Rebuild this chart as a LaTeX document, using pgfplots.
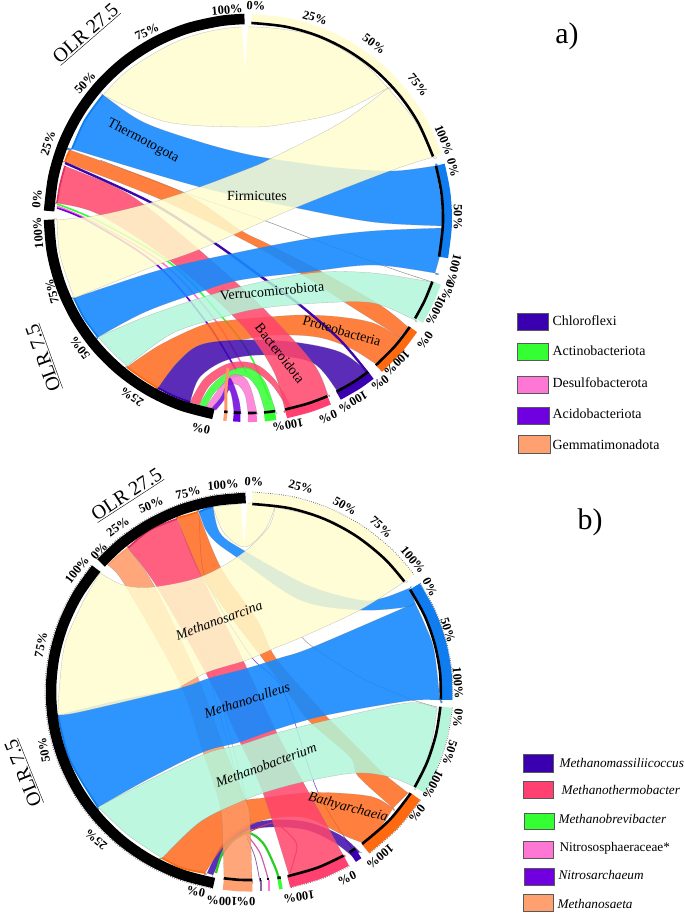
\documentclass[border=0pt]{standalone}
\usepackage{fontspec}
\setmainfont{Liberation Serif}
\usepackage{pgfplots}
\pgfplotsset{compat=1.18}

% chord colours (blended over white) and band colours
\definecolor{yel}{RGB}{255,253,207}
\definecolor{blu}{RGB}{23,137,255}
\definecolor{min}{RGB}{178,246,217}
\definecolor{ora}{RGB}{255,105,29}
\definecolor{pnk}{RGB}{255,68,106}
\definecolor{pur}{RGB}{61,7,171}
\definecolor{lor}{RGB}{255,150,100}
\definecolor{grn}{RGB}{51,255,51}
\definecolor{vpk}{RGB}{255,119,213}
\definecolor{vio}{RGB}{112,0,224}
\definecolor{byel}{RGB}{255,252,212}
\definecolor{bblu}{RGB}{15,125,240}
\definecolor{bmin}{RGB}{181,245,218}
\definecolor{bora}{RGB}{255,106,16}
\definecolor{bpnk}{RGB}{255,64,112}
\definecolor{bpur}{RGB}{58,0,176}
\definecolor{blor}{RGB}{255,160,112}
\definecolor{dpnk}{RGB}{225,50,95}

\pgfplotsset{
  ch/.style={draw=black!50, draw opacity=.5, line width=.3pt, fill=#1, fill opacity=.85, smooth, tension=.55},
  chb/.style={draw=black!50, draw opacity=.5, line width=.3pt, fill=#1, fill opacity=.9, smooth, tension=.55},
  band/.style={draw=#1, line width=9bp, smooth, tension=.55},
  bandb/.style={draw=#1, line width=11bp, smooth, tension=.55},
  blk/.style={draw=black, line width=2.6bp, smooth, tension=.55},
  ring/.style={draw=black, line width=10.5bp, smooth, tension=.55},
  thin/.style={draw=#1, line width=1.6bp, smooth, tension=.55},
  strip/.style={draw=#1, line width=1.8bp, smooth, tension=.55},
  rim/.style={draw=black!60, line width=.8bp, dash pattern=on .7bp off 1.5bp, smooth, tension=.55},
  box/.style={draw=black!65, line width=.8pt, fill=#1},
}
\newcommand{\pct}[4]{\node[rotate=#3, inner sep=0pt, font=\fontsize{12.5}{12.5}\selectfont\bfseries] at (axis cs:#1,#2) {#4\%};}
\newcommand{\lab}[4]{\node[rotate=#3, inner sep=0pt, font=\fontsize{14}{14}\selectfont] at (axis cs:#1,#2) {#4};}
\newcommand{\leg}[3]{\node[anchor=west, font=\fontsize{14}{14}\selectfont] at (axis cs:#1,#2) {#3};}
\newcommand{\legb}[3]{\node[anchor=west, font=\fontsize{13.3}{14}\selectfont] at (axis cs:#1,#2) {#3};}
\newcommand{\olr}[4]{\node[rotate=#3, inner sep=0pt, font=\fontsize{20}{20}\selectfont] at (axis cs:#1,#2) {\underline{#4}};}

\begin{document}
\begin{tikzpicture}
\path[use as bounding box] (0,0) rectangle (685bp,914bp);
\begin{axis}[
  at={(0,0)}, anchor=south west,
  scale only axis, width=685bp, height=914bp,
  xmin=0, xmax=685, ymin=0, ymax=914,
  y dir=reverse,
  axis lines=none,
  clip=false,
]

%%%%%% panel a %%%%%%
% long thin ribbons
\addplot[thin=grn] coordinates {(57,204)(100,222)(170,263)(223,318)(250,355)(270,400)};
\addplot[thin=vpk] coordinates {(57,206)(97,224)(165,265)(215,320)(246,372)};
\addplot[thin=vio] coordinates {(57,208)(90,222)(157,265)(207,323)(236,370)};
\addplot[draw=black!45, line width=.5pt, smooth] coordinates {(100,160)(183,192)(263,220)(310,238)(387,267)(432,282)};
% arch ribbons
\addplot[ch=pnk] coordinates {(190,402)(190,402)(205,378)(230,363)(255,364)(275,380)(292,408)(292,408)(288,409)(288,409)(272,385)(252,370)(232,370)(210,385)(199,405)(199,405)(190,402)};
\addplot[ch=grn] coordinates {(199,405)(199,405)(212,385)(232,370)(250,368)(265,382)(276,412)(276,412)(265,412)(265,412)(258,390)(247,377)(233,378)(215,392)(206,407)(206,407)(199,405)};
\addplot[ch=vpk] coordinates {(206,407)(206,407)(218,390)(232,375)(245,378)(252,392)(257,413)(257,413)(248,413)(248,413)(245,395)(238,385)(229,385)(220,397)(212,408)(212,408)(206,407)};
\addplot[ch=vio] coordinates {(212,408)(212,408)(222,395)(229,378)(234,385)(239,400)(241,413)(241,413)(234,413)(234,413)(232,398)(229,390)(224,400)(216,410)(216,410)(212,408)};
\addplot[draw=lor, line width=3bp, smooth] coordinates {(226,412)(226,390)(228,368)};
% big chords
\addplot[ch=ora] coordinates {(400,337)(400,337)(373,323)(340,317)(303,315)(268,317)(233,320)(203,325)(160,345)(127,367)(127,367)(142,378)(158,388)(158,388)(177,363)(200,345)(240,340)(273,335)(317,337)(350,348)(376,364)(376,364)(390,352)(400,337)};
\addplot[ch=ora] coordinates {(70,150)(70,150)(180,191)(240,230)(268,244)(322,272)(380,305)(408,327)(408,327)(400,337)(400,337)(352,307)(303,275)(257,247)(162,200)(65,162)(65,162)(70,150)};
\addplot[ch=pur] coordinates {(368,372)(368,372)(340,352)(293,342)(240,340)(200,345)(177,363)(158,388)(158,388)(174,396)(190,402)(190,402)(200,377)(227,360)(267,355)(313,363)(338,392)(338,392)(354,382)(368,372)};
\addplot[ch=pnk] coordinates {(65,166)(65,166)(130,195)(197,248)(263,308)(313,363)(328,395)(328,395)(310,403)(285,410)(285,410)(273,370)(240,323)(173,263)(100,215)(57,203)(57,203)(60,185)(65,166)};
\addplot[draw=pur, line width=2.4bp, smooth] coordinates {(65,163)(150,202)(213,242)(263,278)(300,305)(340,340)(367,372)};
\addplot[ch=min] coordinates {(432,282)(432,282)(373,273)(323,272)(280,278)(220,292)(150,315)(98,337)(98,337)(112,352)(127,366)(127,366)(173,333)(227,316)(263,308)(320,303)(373,303)(415,320)(415,320)(425,300)(432,282)};
\addplot[chb=blu] coordinates {(442,228)(442,228)(373,231)(313,238)(240,252)(160,270)(74,298)(74,298)(84,318)(98,337)(98,337)(145,312)(200,292)(240,280)(307,272)(373,265)(435,273)(435,273)(441,250)(442,228)};
\addplot[chb=blu] coordinates {(103,95)(103,95)(143,122)(200,142)(250,155)(300,163)(340,168)(393,171)(435,166)(435,166)(441,200)(442,226)(442,226)(373,222)(297,208)(200,187)(72,149)(72,149)(85,120)(103,95)};
\addplot[ch=yel] coordinates {(103,95)(103,95)(131,68)(183,39)(241,27)(308,34)(359,60)(388,88)(388,88)(340,112)(290,123)(250,127)(167,122)(103,95)};
\addplot[ch=yel] coordinates {(388,88)(388,88)(415,121)(433,157)(433,157)(387,172)(295,208)(203,248)(157,265)(74,298)(74,298)(60,255)(57,220)(57,220)(100,215)(150,203)(197,188)(250,168)(270,159)(340,123)(388,88)};
% darker strips where the chords meet the ring
\addplot[strip=bblu] coordinates {(72,149)(85,120)(103,95)};
\addplot[strip=bora] coordinates {(70,150)(67,156)(65,162)};
\addplot[strip=dpnk] coordinates {(65,166)(60,185)(57,203)};
\addplot[strip=bblu] coordinates {(74,298)(84,318)(98,337)};
\addplot[strip=bora] coordinates {(127,367)(142,378)(158,388)};
\addplot[strip=bpur] coordinates {(158,388)(174,396)(190,402)};
% top notch
\addplot[fill=white, draw=none] coordinates {(240,8)(243,40)(245,70)(247,40)(250,8)(240,8)};
% bands on the right
\addplot[band=byel] coordinates {(251.5,18.5)(286,22.2)(319.5,31.7)(350.7,47)(378.9,67.4)(403,92.5)(422.5,121.3)(437.3,155)};
\addplot[band=bblu] coordinates {(440.3,164.7)(446,193.7)(447.4,225)(443.6,257.5)};
\addplot[band=bmin] coordinates {(436.7,283)(428.8,302.4)(419,320.7)};
\addplot[band=bora] coordinates {(413.4,329.5)(398.6,348.9)(378.9,368.6)};
\addplot[band=bpur] coordinates {(370.9,375.2)(356.7,385.4)(338.6,395.8)};
\addplot[band=bpnk] coordinates {(329.2,400.3)(309.6,407.7)(286,413.9)};
\addplot[band=grn] coordinates {(275.7,415.5)(270,416.3)(264.4,416.9)};
\addplot[band=vpk] coordinates {(256.8,417.3)(252,417.5)(248,417.5)};
\addplot[band=vio] coordinates {(240.4,417.3)(237,417.2)(233.4,416.9)};
\addplot[band=blor] coordinates {(227,416.5)(225.3,416.3)(223.7,416.1)};
% black lines inside the bands
\addplot[blk] coordinates {(251.4,23)(285.2,26.6)(317.9,35.9)(348.4,50.9)(375.9,70.8)(399.5,95.3)(418.6,123.5)(433,156.4)};
\addplot[blk] coordinates {(436,166)(441.6,194.2)(442.9,224.8)(439.1,256.6)};
\addplot[blk] coordinates {(432.4,281.6)(424.7,300.5)(415.1,318.4)};
\addplot[blk] coordinates {(409.7,327)(395.2,345.9)(375.9,365.2)};
\addplot[blk] coordinates {(368.1,371.7)(354.3,381.6)(336.5,391.7)};
\addplot[blk] coordinates {(327.4,396.2)(308.3,403.4)(285.2,409.5)};
\addplot[blk] coordinates {(275.1,411.1)(270,411.8)(264,412.4)};
\addplot[blk] coordinates {(256.5,412.8)(252,413)(248,413)};
\addplot[blk] coordinates {(240.6,412.8)(237,412.7)(233.8,412.4)};
\addplot[blk] coordinates {(227.5,412)(225.8,411.8)(224.2,411.6)};
% black rings on the left
\addplot[ring] coordinates {(213.4,414)(180,405)(148.5,390.3)(120.1,370.4)(95.6,346)(75.7,317.5)(61,286)(52,252.6)(49,219.7)};
\addplot[ring] coordinates {(49.1,211)(53.4,176.6)(63.5,143.4)(79.3,112.5)(100.1,84.9)(125.5,61.2)(154.6,42.3)(186.5,28.7)(220.3,21)(244.5,19)};
% text
\olr{86}{34}{41}{OLR 27.5}
\olr{44}{358}{110}{OLR 7.5}
\node[font=\fontsize{30}{30}\selectfont] at (axis cs:567,36) {a)};
\lab{143}{141}{-28}{Thermotogota}
\lab{257}{196}{0}{Firmicutes}
\lab{272}{291}{5}{Verrucomicrobiota}
\lab{342}{331}{-16}{Proteobacteria}
\lab{280}{353}{-52}{Bacteroidota}
\pct{256}{6}{-3}{0}
\pct{227}{10}{5}{100}
\pct{147}{32}{25}{75}
\pct{85}{83}{48}{50}
\pct{48}{143}{72}{25}
\pct{37}{199}{85}{0}
\pct{38}{233}{95}{100}
\pct{52}{292}{105}{75}
\pct{80}{348}{127}{50}
\pct{132}{397}{147}{25}
\pct{201}{429}{168}{0}
\pct{315}{18}{-18}{25}
\pct{374}{44}{-36}{50}
\pct{418}{85}{-52}{75}
\pct{444}{140}{-68}{100}
\pct{453}{168}{-76}{0}
\pct{458}{217}{-90}{50}
\pct{454}{270}{-104}{100}
\pct{448}{291}{-110}{0}
\pct{436}{311}{-117}{100}
\pct{425}{340}{-125}{0}
\pct{397}{363}{-135}{100}
\pct{380}{383}{-142}{0}
\pct{353}{402}{-150}{100}
\pct{328}{417}{-158}{0}
\pct{288}{425}{-170}{100}
% legend a
\addplot[box=bpur] coordinates {(517,313)(548,313)(548,330)(517,330)(517,313)};
\addplot[box=grn] coordinates {(517,343)(548,343)(548,360)(517,360)(517,343)};
\addplot[box=vpk] coordinates {(517,376)(548,376)(548,393)(517,393)(517,376)};
\addplot[box=vio] coordinates {(517,407)(549,407)(549,424)(517,424)(517,407)};
\addplot[box=blor] coordinates {(518,435)(550,435)(550,453)(518,453)(518,435)};
\leg{549}{321}{Chloroflexi}
\leg{549}{351}{Actinobacteriota}
\leg{549}{383}{Desulfobacterota}
\leg{549}{414}{Acidobacteriota}
\leg{549}{445}{Gemmatimonadota}

%%%%%% panel b %%%%%%
\addplot[draw=black!40, line width=.5pt, smooth] coordinates {(302,637)(313,647)(360,677)(407,698)(437,707)};
\addplot[draw=black!30, line width=.5pt, smooth] coordinates {(157,587)(200,650)(213,690)(240,790)(247,827)};
\addplot[draw=black!30, line width=.5pt, smooth] coordinates {(160,587)(205,650)(218,690)(244,790)(252,827)};
\addplot[draw=pur!70, line width=.6pt, smooth] coordinates {(200,512)(205,577)(250,655)(283,690)(317,790)(353,850)};
% arcs at the bottom
\addplot[ch=pur] coordinates {(207,873)(207,873)(222,845)(245,826)(272,820)(307,822)(340,835)(360,852)(360,852)(352,856)(352,856)(335,843)(307,830)(272,827)(245,832)(226,850)(213,875)(213,875)(207,873)};
\addplot[draw=pnk!80!black, line width=1bp, smooth] coordinates {(247,833)(273,823)(290,835)(297,847)(290,873)};
\addplot[draw=grn!80!black, line width=2.2bp, smooth] coordinates {(216,873)(225,848)(247,833)(263,843)(275,867)(280,882)};
\addplot[draw=vpk!80!black, line width=1.2bp, smooth] coordinates {(247,835)(260,853)(269,882)};
\addplot[draw=vio!50!black!60, line width=.8bp, smooth] coordinates {(247,838)(255,857)(260,882)};
% big chords
\addplot[ch=ora] coordinates {(393,808)(393,808)(373,797)(337,793)(303,793)(263,798)(240,802)(200,822)(162,858)(162,858)(182,868)(205,873)(205,873)(223,847)(247,827)(273,818)(307,818)(343,835)(363,843)(363,843)(380,828)(393,808)};
\addplot[ch=ora] coordinates {(177,518)(177,518)(202,577)(260,655)(293,700)(310,722)(350,757)(358,776)(393,808)(393,808)(408,793)(408,793)(383,773)(360,750)(327,717)(312,700)(275,657)(257,620)(221,568)(198,512)(198,512)(177,518)};
\addplot[ch=lor] coordinates {(108,565)(108,565)(125,585)(180,683)(203,752)(220,805)(223,847)(224,878)(224,878)(239,880)(252,880)(252,880)(250,823)(247,803)(223,745)(198,678)(155,587)(128,548)(128,548)(108,565)};
\addplot[ch=pnk] coordinates {(128,548)(128,548)(157,587)(208,677)(240,742)(263,793)(289,875)(289,875)(318,868)(343,855)(343,855)(323,818)(303,782)(275,729)(243,660)(202,577)(177,519)(177,519)(150,530)(128,548)};
\addplot[ch=min] coordinates {(437,708)(437,708)(407,703)(328,720)(277,733)(240,745)(207,753)(150,780)(98,807)(98,807)(128,835)(162,858)(162,858)(200,822)(240,802)(263,793)(303,782)(355,773)(390,777)(415,787)(415,787)(430,750)(437,708)};
\addplot[chb=blu] coordinates {(415,603)(415,603)(425,625)(434,650)(440,700)(440,700)(407,701)(327,715)(277,729)(240,742)(203,752)(150,778)(98,807)(98,807)(70,760)(58,715)(58,715)(120,700)(180,688)(210,678)(248,668)(280,658)(313,647)(415,603)};
\addplot[chb=blu] coordinates {(199,512)(199,512)(206,530)(217,543)(238,558)(300,600)(360,610)(407,607)(415,603)(415,603)(410,588)(410,588)(383,598)(360,600)(307,585)(243,550)(220,533)(213,507)(213,507)(199,512)};
\addplot[ch=yel] coordinates {(213,507)(213,507)(224,533)(245,547)(265,530)(275,507)(275,507)(252,503)(213,507)};
\addplot[ch=yel] coordinates {(275,507)(275,507)(324,519)(356,536)(385,559)(404,582)(404,582)(360,610)(302,637)(275,648)(247,660)(208,672)(180,687)(173,690)(80,712)(58,715)(58,715)(59,692)(65,644)(84,600)(100,573)(100,573)(123,585)(153,587)(200,577)(240,555)(268,528)(275,507)};
% darker strips where the chords meet the ring
\addplot[strip=dpnk] coordinates {(128,548)(150,530)(177,519)};
\addplot[strip=bora] coordinates {(177,518)(188,515)(198,512)};
\addplot[strip=bblu] coordinates {(199,512)(206,509)(213,507)};
\addplot[strip=blor] coordinates {(108,565)(118,556)(128,548)};
\addplot[strip=bblu] coordinates {(58,715)(70,760)(98,807)};
\addplot[strip=bora] coordinates {(162,858)(182,868)(205,873)};
% top notch
\addplot[fill=white, draw=none] coordinates {(240,488)(242,520)(244,545)(246,520)(249,488)(240,488)};
% bands on the right
\addplot[bandb=byel] coordinates {(252.4,498)(290.2,502.3)(326.4,513.4)(359.7,531.2)(389,554.8)(409.2,578)};
\addplot[bandb=bblu] coordinates {(415.1,586.3)(430,613)(440.3,641.8)(446,671.6)(446.8,699.8)};
\addplot[bandb=bmin] coordinates {(446.4,707.1)(441.9,735.7)(432.5,764.8)(419.9,790.2)};
\addplot[bandb=bora] coordinates {(415.7,796.6)(393.7,824.3)(365.6,848.8)};
\addplot[bandb=bpur] coordinates {(358.5,853.6)(355.5,855.5)(352.8,857.3)};
\addplot[bandb=bpnk] coordinates {(346.4,860.8)(319.9,873.2)(288.8,882.1)};
\addplot[bandb=grn] coordinates {(281.7,883.3)(280,883.6)(278.3,883.9)};
\addplot[bandb=vpk] coordinates {(269.5,885)(268.8,885)(268.1,885)};
\addplot[bandb=vio!50!black!60] coordinates {(261.2,885.6)(260.7,885.6)(260.2,885.6)};
\addplot[bandb=blor] coordinates {(252.4,886)(238.7,885.8)(223.3,884.3)};
% dotted rim of the bands and teeth of the rings
\addplot[rim] coordinates {(252.6,492)(291.4,496.4)(328.8,507.9)(363,526.2)(393.2,550.6)(414,574.4)};
\addplot[rim] coordinates {(420.2,583)(435.5,610.6)(446,640.2)(452,671)(452.8,700)};
\addplot[rim] coordinates {(452.4,707.6)(447.7,737)(438.1,767)(425,793.2)};
\addplot[rim] coordinates {(420.8,799.8)(398.1,828.4)(369.2,853.6)};
\addplot[rim] coordinates {(349.4,866)(322,878.8)(290,888)};
\addplot[rim] coordinates {(212.9,888.8)(179.2,880)(147,865.2)(117.8,845.2)(92.7,820.6)(72.3,792)(57.2,760.4)(48,726.8)(45,692)(48,657.2)(57.2,623.6)(72.3,592)(91.5,564.8)};
\addplot[rim] coordinates {(96.6,559)(117.8,538.8)(147,518.8)(179.2,504)(213.5,495)(245.5,492)};
% black lines inside the bands
\addplot[blk] coordinates {(252.3,504)(288.9,508.1)(324.1,518.9)(356.3,536.1)(384.8,559)(404.3,581.5)};
\addplot[blk] coordinates {(410.1,589.6)(424.5,615.5)(434.5,643.3)(440,672.3)(440.8,699.5)};
\addplot[blk] coordinates {(440.4,706.7)(436,734.3)(427,762.5)(414.7,787.1)};
\addplot[blk] coordinates {(410.7,793.3)(389.4,820.2)(362.1,843.9)};
\addplot[blk] coordinates {(355.2,848.6)(352.4,850.4)(349.6,852.2)};
\addplot[blk] coordinates {(343.5,855.6)(317.7,867.6)(287.6,876.2)};
\addplot[blk] coordinates {(280.7,877.4)(279,877.7)(277.4,878)};
\addplot[blk] coordinates {(269,879)(268.2,879)(267.4,879)};
\addplot[blk] coordinates {(261,879.6)(260.3,879.6)(259.6,879.6)};
\addplot[blk] coordinates {(252.3,880)(239,879.8)(224,878.3)};
% black rings on the left
\addplot[ring] coordinates {(214,883)(181.3,874.4)(150,860)(121.7,840.6)(97.3,816.7)(77.5,789)(62.9,758.3)(54,725.8)(51,692)(54,658.2)(62.9,625.7)(77.5,595)(96.2,568.6)};
\addplot[ring] coordinates {(101.1,563)(121.7,543.4)(150,524)(181.3,509.6)(214.5,500.9)(245.6,498)};
% text
\olr{127}{495}{33}{OLR 27.5}
\olr{24}{773}{112}{OLR 7.5}
\node[font=\fontsize{30}{30}\selectfont] at (axis cs:590,522) {b)};
\lab{219}{620}{20}{\itshape Methanosarcina}
\lab{247}{700}{18}{\itshape Methanoculleus}
\lab{266}{765}{20}{\itshape Methanobacterium}
\lab{348}{808}{-15}{\itshape Bathyarchaeia}
\pct{254}{482}{-3}{0}
\pct{301}{487}{-15}{25}
\pct{345}{506}{-30}{50}
\pct{381}{527}{-42}{75}
\pct{413}{560}{-50}{100}
\pct{430}{587}{-62}{0}
\pct{448}{630}{-72}{50}
\pct{458}{683}{-85}{100}
\pct{458}{718}{-95}{0}
\pct{450}{753}{-108}{50}
\pct{433}{785}{-118}{100}
\pct{417}{813}{-128}{0}
\pct{380}{857}{-140}{100}
\pct{347}{878}{-155}{0}
\pct{299}{897}{-172}{100}
\pct{246}{902}{180}{0}
\pct{222}{901}{178}{100}
\pct{196}{892}{168}{0}
\pct{96}{840}{140}{25}
\pct{44}{750}{100}{50}
\pct{41}{645}{78}{75}
\pct{77}{570}{52}{100}
\pct{99}{551}{48}{0}
\pct{118}{527}{37}{25}
\pct{151}{505}{22}{50}
\pct{188}{493}{12}{75}
\pct{223}{485}{4}{100}
% legend b
\addplot[box=bpur] coordinates {(523,754)(553,754)(553,772)(523,772)(523,754)};
\addplot[box=bpnk] coordinates {(523,781)(553,781)(553,798)(523,798)(523,781)};
\addplot[box=grn] coordinates {(524,813)(554,813)(554,829)(524,829)(524,813)};
\addplot[box=vpk] coordinates {(523,841)(553,841)(553,858)(523,858)(523,841)};
\addplot[box=vio] coordinates {(524,868)(554,868)(554,885)(524,885)(524,868)};
\addplot[box=blor] coordinates {(523,894)(553,894)(553,911)(523,911)(523,894)};
\legb{556}{763}{\itshape Methanomassiliicoccus}
\legb{558}{790}{\itshape Methanothermobacter}
\legb{555}{819}{\itshape Methanobrevibacter}
\legb{556}{848}{Nitrososphaeraceae*}
\legb{555}{875}{\itshape Nitrosarchaeum}
\legb{554}{904}{\itshape Methanosaeta}
\end{axis}
\end{tikzpicture}
\end{document}
